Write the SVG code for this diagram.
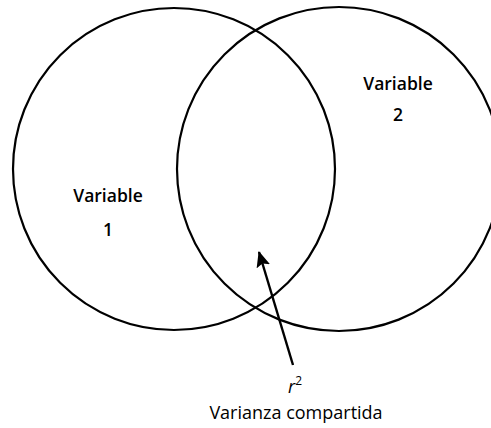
<svg xmlns="http://www.w3.org/2000/svg" width="491" height="428" viewBox="0 0 491 428">
<style>
.c{fill:none;stroke:#000;stroke-width:2.2}
.lb{font-family:"Open Sans","DejaVu Sans",sans-serif;font-weight:600;font-size:17.5px;text-anchor:middle;fill:#000}
.t{font-family:"Open Sans","DejaVu Sans",sans-serif;font-size:18px;text-anchor:middle;fill:#000}
</style>
<defs>
<marker id="ah" markerWidth="16" markerHeight="14" refX="15" refY="7" orient="auto" markerUnits="userSpaceOnUse" viewBox="0 0 16 14">
<path d="M0,0 L16,7 L0,14 L3,7 z" fill="#000"/>
</marker>
</defs>
<rect width="491" height="428" fill="#fff"/>
<g id="var1">
<circle class="c" cx="174" cy="169" r="161"/>
<text class="lb" x="108" y="202">Variable</text>
<text class="lb" x="108" y="236">1</text>
</g>
<g id="var2">
<circle class="c" cx="339" cy="169" r="162"/>
<text class="lb" x="398" y="90">Variable</text>
<text class="lb" x="398" y="121">2</text>
</g>
<g id="connectors">
<line x1="293" y1="365" x2="259" y2="252" stroke="#000" stroke-width="2.4" marker-end="url(#ah)"/>
</g>
<g id="label">
<text class="t" x="295" y="393" font-style="italic" font-size="16">r<tspan font-size="12" font-style="normal" dy="-8">2</tspan></text>
<text class="t" x="296" y="419">Varianza compartida</text>
</g>
</svg>
